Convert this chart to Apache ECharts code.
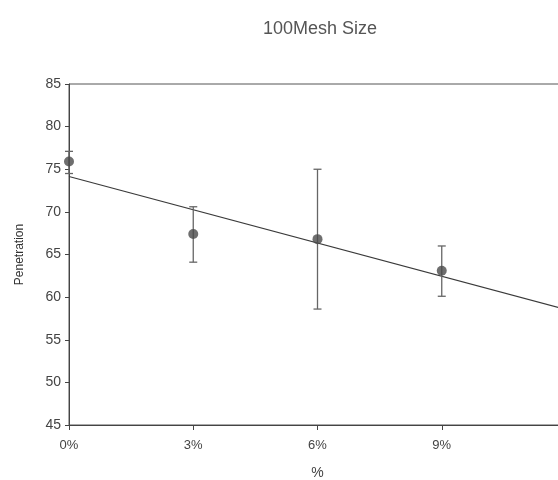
<!DOCTYPE html>
<html>
<head>
<meta charset="utf-8">
<title>100Mesh Size</title>
<script src="https://cdn.jsdelivr.net/npm/echarts@6/dist/echarts.min.js"></script>
<style>
    html, body { margin: 0; padding: 0; background: #fff; }
    #chart { width: 558px; height: 480px; }
</style>
</head>
<body>
<div id="chart"></div>
<script>
// 添加量 (%)
var percent = [0, 3, 6, 9];
// 针入度平均值
var penetration = [75.9, 67.4, 66.8, 63.1];
// 误差线上下限
var errLow = [74.5, 64.1, 58.6, 60.1];
var errHigh = [77.1, 70.6, 75.0, 66.0];
var xTicks = [0, 3, 6, 9, 12];

// 线性趋势线 (最小二乘)
function linearFit(xs, ys) {
    var n = xs.length, mx = 0, my = 0;
    for (var i = 0; i < n; i++) { mx += xs[i]; my += ys[i]; }
    mx /= n; my /= n;
    var sxy = 0, sxx = 0;
    for (var j = 0; j < n; j++) {
        sxy += (xs[j] - mx) * (ys[j] - my);
        sxx += (xs[j] - mx) * (xs[j] - mx);
    }
    var k = sxy / sxx;
    return { k: k, b: my - k * mx };
}
var fit = linearFit(percent, penetration);
var xEnd = xTicks[xTicks.length - 1];
var trend = [[0, fit.b], [xEnd, fit.b + fit.k * xEnd]];

var points = percent.map(function (x, i) { return [x, penetration[i]]; });
var errData = percent.map(function (x, i) { return [x, errLow[i], errHigh[i]]; });

var chart = echarts.init(document.getElementById('chart'));
chart.setOption({
    backgroundColor: '#fff',
    animation: false,
    title: {
        text: '100Mesh Size',
        left: 258,
        top: 15,
        textStyle: { fontFamily: 'Liberation Sans', fontSize: 18, fontWeight: 'normal', color: '#555' }
    },
    grid: {
        left: 69, top: 84, width: 497, height: 341,
        outerBoundsMode: 'none',
        containLabel: false,
        show: true, borderColor: '#555', borderWidth: 1, backgroundColor: '#fff'
    },
    xAxis: {
        type: 'value',
        min: 0, max: xEnd, interval: 3,
        name: '%',
        nameLocation: 'middle',
        nameGap: 41,
        nameTextStyle: { fontFamily: 'Liberation Sans', fontSize: 14, color: '#444' },
        axisLine: { lineStyle: { color: '#444' } },
        axisTick: { length: 5, lineStyle: { color: '#444' } },
        axisLabel: {
            showMaxLabel: false,
            margin: 14,
            fontFamily: 'Liberation Sans', fontSize: 13, color: '#444',
            formatter: function (v) { return v + '%'; }
        },
        splitLine: { show: false }
    },
    yAxis: {
        type: 'value',
        min: 45, max: 85, interval: 5,
        name: 'Penetration',
        nameLocation: 'middle',
        nameGap: 43,
        nameTextStyle: { fontFamily: 'Liberation Sans', fontSize: 12, color: '#333' },
        axisLine: { show: true, lineStyle: { color: '#444' } },
        axisTick: { show: true, length: 4, lineStyle: { color: '#444' } },
        axisLabel: { margin: 8, fontFamily: 'Liberation Sans', fontSize: 14, color: '#444' },
        splitLine: { show: false }
    },
    series: [
        {
            type: 'line',
            data: trend,
            symbol: 'none',
            lineStyle: { color: '#3a3a3a', width: 1.2 },
            z: 2
        },
        {
            type: 'custom',
            data: errData,
            renderItem: function (params, api) {
                var x = api.value(0);
                var lo = api.coord([x, api.value(1)]);
                var hi = api.coord([x, api.value(2)]);
                var w = 4;
                var style = { stroke: '#666', lineWidth: 1.3 };
                return {
                    type: 'group',
                    children: [
                        { type: 'line', shape: { x1: lo[0], y1: lo[1], x2: hi[0], y2: hi[1] }, style: style },
                        { type: 'line', shape: { x1: hi[0] - w, y1: hi[1], x2: hi[0] + w, y2: hi[1] }, style: style },
                        { type: 'line', shape: { x1: lo[0] - w, y1: lo[1], x2: lo[0] + w, y2: lo[1] }, style: style }
                    ]
                };
            },
            z: 3
        },
        {
            type: 'scatter',
            data: points,
            symbol: 'circle',
            symbolSize: 10,
            itemStyle: { color: '#4a4a4a' },
            z: 4
        }
    ]
});
</script>
</body>
</html>
